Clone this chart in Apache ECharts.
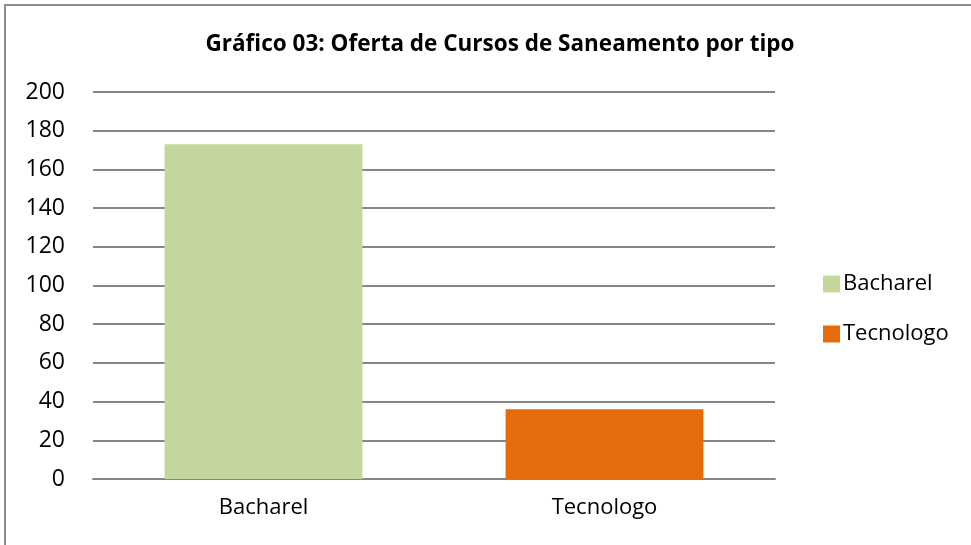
<!DOCTYPE html>
<html>
<head>
<meta charset="utf-8">
<script src="https://cdn.jsdelivr.net/npm/echarts@6/dist/echarts.min.js"></script>
<style>
  html, body { margin: 0; padding: 0; background: #fff; }
  #chart { width: 971px; height: 545px; }
</style>
</head>
<body>
<div id="chart"></div>
<script>
const categories = ["Bacharel", "Tecnologo"];
const values = [173, 36];
const colors = ["#c3d69b", "#e46c0a"];

const chart = echarts.init(document.getElementById("chart"));
const font = "'Open Sans', sans-serif";

chart.setOption({
  animation: false,
  graphic: [
    {
      type: "rect",
      shape: { x: 5, y: 5, width: 1000, height: 600 },
      style: { fill: "none", stroke: "#8c8c8c", lineWidth: 2 },
      z: 100,
    },
  ],
  title: {
    text: "Gráfico 03: Oferta de Cursos de Saneamento por tipo",
    left: 495,
    textAlign: "center",
    top: 28,
    textStyle: { fontFamily: font, fontSize: 22.5, fontWeight: "bold", color: "#000" },
  },
  legend: {
    orient: "vertical",
    left: 818,
    top: 268,
    itemWidth: 17,
    itemHeight: 17,
    itemGap: 28,
    icon: "rect",
    textStyle: { fontFamily: font, fontSize: 22, color: "#000", padding: [0, 0, 0, -2] },
    data: categories,
  },
  grid: { left: 93, right: 196, top: 92, bottom: 66 },
  xAxis: {
    type: "category",
    data: categories,
    axisLine: { show: true, lineStyle: { color: "#868686", width: 2 } },
    axisTick: { show: false },
    axisLabel: { fontFamily: font, fontSize: 22, color: "#000", margin: 18 },
  },
  yAxis: {
    type: "value",
    min: 0,
    max: 200,
    interval: 20,
    axisLine: { show: false },
    axisTick: { show: false },
    axisLabel: { fontFamily: font, fontSize: 23, color: "#000", margin: 28 },
    splitLine: { lineStyle: { color: "#868686", width: 2 } },
  },
  series: categories.map((name, i) => ({
    name: name,
    type: "bar",
    stack: "s",
    barWidth: "58%",
    itemStyle: { color: colors[i] },
    data: categories.map((c, j) => (j === i ? values[i] : null)),
  })),
});
</script>
</body>
</html>
